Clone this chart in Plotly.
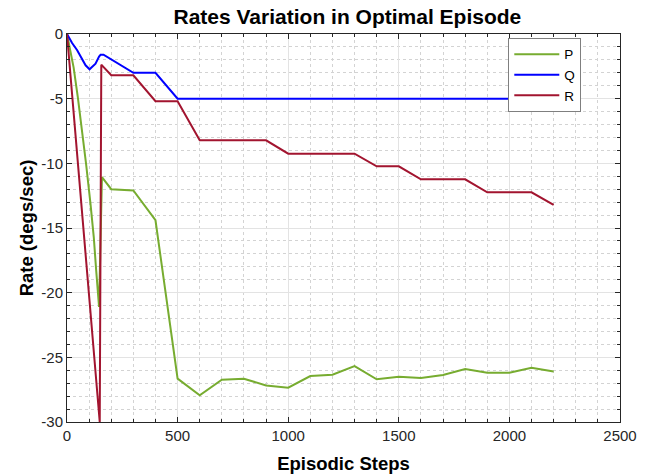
import plotly.graph_objects as go

# ---------------- data ----------------
steps_tail = [500, 600, 700, 800, 900, 1000, 1100, 1200, 1300, 1400, 1500,
              1600, 1700, 1800, 1900, 2000, 2100, 2200]

p_x = [0, 15, 30, 49, 68, 86, 106, 121, 132, 145, 158, 200, 300, 400] + steps_tail
p_y = [0, -1.2, -2.6, -4.9, -7.4, -10.0, -13.1, -15.7, -18.3, -21.1, -11.06,
       -12.0, -12.1, -14.4,
       -26.65, -27.94, -26.73, -26.65, -27.17, -27.35, -26.45, -26.34, -25.68,
       -26.7, -26.5, -26.6, -26.37, -25.9, -26.19, -26.19, -25.8, -26.1]

q_x = [0, 23, 46, 69, 84, 102, 129, 145, 152, 165, 200, 300, 400] + steps_tail
q_y = [0, -0.7, -1.26, -1.9, -2.42, -2.73, -2.3, -1.75, -1.6, -1.6, -1.96,
       -3.0, -3.0,
       -5.0, -5.0, -5.0, -5.0, -5.0, -5.0, -5.0, -5.0, -5.0, -5.0, -5.0,
       -5.0, -5.0, -5.0, -5.0, -5.0, -5.0, -5.0]

r_x = [0, 148, 155, 200, 300, 400] + steps_tail
r_y = [0, -30.0, -2.37, -3.19, -3.19, -5.2,
       -5.2, -8.22, -8.22, -8.22, -8.22, -9.25, -9.25, -9.25, -9.25,
       -10.23, -10.23, -11.24, -11.24, -11.24, -12.24, -12.24, -12.24, -13.22]

x_ticks = [0, 500, 1000, 1500, 2000, 2500]
x_tick_text = ["0", "500", "1000", "1500", "2000", "2500"]
y_ticks = [0, -5, -10, -15, -20, -25, -30]
y_tick_text = ["0", "-5", "-10", "-15", "-20", "-25", "-30"]

# ---------------- figure ----------------
FONT = "Arial, Liberation Sans, sans-serif"
fig = go.Figure()
fig.add_trace(go.Scatter(x=p_x, y=p_y, mode="lines", name="P",
                         line=dict(color="#77AC30", width=2)))
fig.add_trace(go.Scatter(x=q_x, y=q_y, mode="lines", name="Q",
                         line=dict(color="#0000FF", width=2)))
fig.add_trace(go.Scatter(x=r_x, y=r_y, mode="lines", name="R",
                         line=dict(color="#A2142F", width=2)))

axis_common = dict(
    showline=True, linecolor="#262626", linewidth=1, mirror="ticks",
    ticks="inside", ticklen=5, tickcolor="#262626",
    showgrid=True, gridcolor="#E3E3E3", gridwidth=1,
    zeroline=False, automargin=False,
    tickfont=dict(family=FONT, size=15, color="#262626"),
)

fig.update_xaxes(
    **axis_common,
    range=[0, 2500], tickvals=x_ticks, ticktext=x_tick_text,
    minor=dict(dtick=100, showgrid=True, gridcolor="#D3D3D3", griddash="dot",
               gridwidth=1, ticks="inside", ticklen=3, tickcolor="#262626"),
    title=dict(text="<b>Episodic Steps</b>",
               font=dict(family=FONT, size=18.5, color="#000000")),
)
fig.update_yaxes(
    **axis_common,
    range=[-30, 0], tickvals=y_ticks, ticktext=y_tick_text,
    minor=dict(dtick=1, showgrid=True, gridcolor="#D3D3D3", griddash="dot",
               gridwidth=1, ticks="inside", ticklen=3, tickcolor="#262626"),
    title=dict(text="<b>Rate (degs/sec)</b>",
               font=dict(family=FONT, size=18.5, color="#000000"), standoff=2),
)

fig.update_layout(
    width=648, height=474,
    margin=dict(l=67, r=28, t=34, b=52),
    paper_bgcolor="white", plot_bgcolor="white",
    title=dict(text="<b>Rates Variation in Optimal Episode</b>",
               font=dict(family=FONT, size=21, color="#000000"),
               x=0.507, xanchor="center", xref="paper",
               y=1 - 17 / 474, yanchor="middle", yref="container"),
    legend=dict(x=0.798, y=0.99, xanchor="left", yanchor="top",
                bgcolor="white", bordercolor="#7F7F7F", borderwidth=1,
                font=dict(family=FONT, size=13.5, color="#000000"),
                itemwidth=45, tracegroupgap=0),
    showlegend=True,
)

fig.write_html("out.html")
